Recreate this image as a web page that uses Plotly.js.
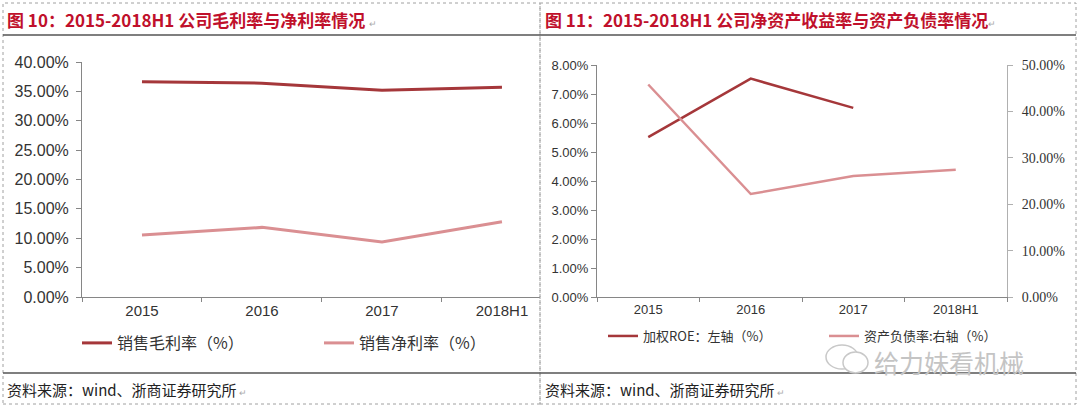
<!DOCTYPE html>
<html>
<head>
<meta charset="utf-8">
<script src="https://cdn.plot.ly/plotly-3.0.1.min.js"></script>
<style>
html,body{margin:0;padding:0;background:#fff;overflow:hidden;}
#chart{width:1080px;height:408px;}
</style>
</head>
<body>
<div id="chart"></div>
<script>
// ---- data ----
const categories = ['2015', '2016', '2017', '2018H1'];
const grossMargin = [0.3665, 0.3640, 0.3520, 0.3570];
const netMargin = [0.1055, 0.1185, 0.0936, 0.1280];
const weightedROE = [0.0551, 0.0753, 0.0652, null];
const debtRatio = [0.458, 0.222, 0.261, 0.274];

const leftTitle = '图 10：2015-2018H1 公司毛利率与净利率情况';
const rightTitle = '图 11：2015-2018H1 公司净资产收益率与资产负债率情况';
const sourceText = '资料来源：wind、浙商证券研究所';
const watermark = '给力妹看机械';
const names = ['销售毛利率（%）', '销售净利率（%）', '加权ROE：左轴（%）', '资产负债率:右轴（%）'];

const W = 1080, H = 408;
const px = x => x / W;
const py = y => 1 - y / H;

const darkRed = '#a5373a';
const pink = '#da8f92';
const titleRed = '#c0102b';
const sans = 'Liberation Sans, Arial, sans-serif';
const cjk = 'Noto Sans CJK SC, sans-serif';

const traces = [
  {x: categories, y: grossMargin, name: names[0], type: 'scatter', mode: 'lines',
   line: {color: darkRed, width: 3}, xaxis: 'x', yaxis: 'y', legend: 'legend'},
  {x: categories, y: netMargin, name: names[1], type: 'scatter', mode: 'lines',
   line: {color: pink, width: 3}, xaxis: 'x', yaxis: 'y', legend: 'legend'},
  {x: categories, y: weightedROE, name: names[2], type: 'scatter', mode: 'lines',
   line: {color: darkRed, width: 2.5}, xaxis: 'x2', yaxis: 'y2', legend: 'legend2'},
  {x: categories, y: debtRatio, name: names[3], type: 'scatter', mode: 'lines',
   line: {color: pink, width: 2.5}, xaxis: 'x2', yaxis: 'y3', legend: 'legend2'}
];

const axisCommon = {
  showgrid: false, zeroline: false, showline: true, linecolor: '#868686', linewidth: 1,
  ticks: 'outside', tickcolor: '#868686', ticklen: 5, fixedrange: true, automargin: false
};

const layout = {
  width: W, height: H,
  margin: {l: 0, r: 0, t: 0, b: 0, autoexpand: false},
  paper_bgcolor: '#fff', plot_bgcolor: 'rgba(0,0,0,0)',
  font: {family: sans, color: '#333'},
  xaxis: Object.assign({}, axisCommon, {
    domain: [px(82), px(540)], anchor: 'y', type: 'category',
    range: [-0.5, 3.317], tickson: 'boundaries', ticklen: 4,
    tickfont: {size: 15, color: '#333', family: sans}
  }),
  yaxis: Object.assign({}, axisCommon, {
    domain: [py(297), py(62)], anchor: 'x', range: [0, 0.4], dtick: 0.05,
    tickformat: '.2%', ticklabelstandoff: 4, tickfont: {size: 16, color: '#333', family: sans}
  }),
  xaxis2: Object.assign({}, axisCommon, {
    domain: [px(597), px(1007)], anchor: 'y2', type: 'category',
    range: [-0.5, 3.5], tickson: 'boundaries', ticklen: 4,
    tickfont: {size: 13, color: '#333', family: sans}
  }),
  yaxis2: Object.assign({}, axisCommon, {
    domain: [py(297), py(65)], anchor: 'x2', range: [0, 0.08], dtick: 0.01,
    tickformat: '.2%', tickfont: {size: 13, color: '#333', family: sans}
  }),
  yaxis3: Object.assign({}, axisCommon, {
    domain: [py(297), py(65)], anchor: 'x2', overlaying: 'y2', side: 'right',
    range: [0, 0.5], dtick: 0.1, tickformat: '.2%', linecolor: '#b0b0b0', tickcolor: '#b0b0b0',
    ticklabelstandoff: 6, tickfont: {size: 14, color: '#333', family: 'Liberation Serif, serif'}
  }),
  showlegend: true,
  legend: {
    orientation: 'h', x: px(77), y: py(343), xanchor: 'left', yanchor: 'middle',
    entrywidth: 197, entrywidthmode: 'pixels', bgcolor: 'rgba(0,0,0,0)',
    font: {family: cjk, size: 16, color: '#333'}, itemclick: false, itemdoubleclick: false
  },
  legend2: {
    orientation: 'h', x: px(603), y: py(336), xanchor: 'left', yanchor: 'middle',
    entrywidth: 176, entrywidthmode: 'pixels', bgcolor: 'rgba(0,0,0,0)',
    font: {family: cjk, size: 13, color: '#333'}, itemclick: false, itemdoubleclick: false
  },
  shapes: [
    // dashed panel borders
    {type: 'rect', xref: 'paper', yref: 'paper', x0: px(3), x1: px(540), y0: py(404), y1: py(3),
     line: {color: '#a0a0a0', width: 1, dash: 'dot'}},
    {type: 'rect', xref: 'paper', yref: 'paper', x0: px(540), x1: px(1076), y0: py(404), y1: py(3),
     line: {color: '#a0a0a0', width: 1, dash: 'dot'}},
    // solid title / source rules
    {type: 'line', xref: 'paper', yref: 'paper', x0: px(3), x1: px(1076), y0: py(35), y1: py(35),
     line: {color: '#555', width: 1.5}},
    {type: 'line', xref: 'paper', yref: 'paper', x0: px(3), x1: px(1076), y0: py(373), y1: py(373),
     line: {color: '#555', width: 1.5}},
    // watermark icon (two chat bubbles)
    {type: 'circle', xref: 'paper', yref: 'paper', x0: px(826), x1: px(858), y0: py(369), y1: py(345),
     line: {color: '#c8c8c8', width: 1.5}},
    {type: 'circle', xref: 'paper', yref: 'paper', x0: px(843), x1: px(868), y0: py(373), y1: py(352),
     line: {color: '#c8c8c8', width: 1.5}, fillcolor: '#fff'}
  ],
  annotations: [
    {xref: 'paper', yref: 'paper', x: px(5), y: py(19), xanchor: 'left', yanchor: 'middle',
     text: '<b>' + leftTitle + '</b><span style="font-size:9px;color:#aaa">  ↵</span>', showarrow: false,
     font: {family: cjk, size: 17, color: titleRed}},
    {xref: 'paper', yref: 'paper', x: px(543), y: py(19), xanchor: 'left', yanchor: 'middle',
     text: '<b>' + rightTitle + '</b><span style="font-size:9px;color:#aaa">↵</span>', showarrow: false,
     font: {family: cjk, size: 17, color: titleRed}},
    {xref: 'paper', yref: 'paper', x: px(5), y: py(389), xanchor: 'left', yanchor: 'middle',
     text: sourceText + '<span style="font-size:9px;color:#aaa"> ↵</span>', showarrow: false,
     font: {family: cjk, size: 15, color: '#222'}},
    {xref: 'paper', yref: 'paper', x: px(543), y: py(389), xanchor: 'left', yanchor: 'middle',
     text: sourceText + '<span style="font-size:9px;color:#aaa"> ↵</span>', showarrow: false,
     font: {family: cjk, size: 15, color: '#222'}},
    {xref: 'paper', yref: 'paper', x: px(872), y: py(362), xanchor: 'left', yanchor: 'middle',
     text: watermark, showarrow: false,
     font: {family: cjk, size: 25, color: '#c4c4c4'}}
  ]
};

Plotly.newPlot('chart', traces, layout, {staticPlot: true, displayModeBar: false});
</script>
</body>
</html>
